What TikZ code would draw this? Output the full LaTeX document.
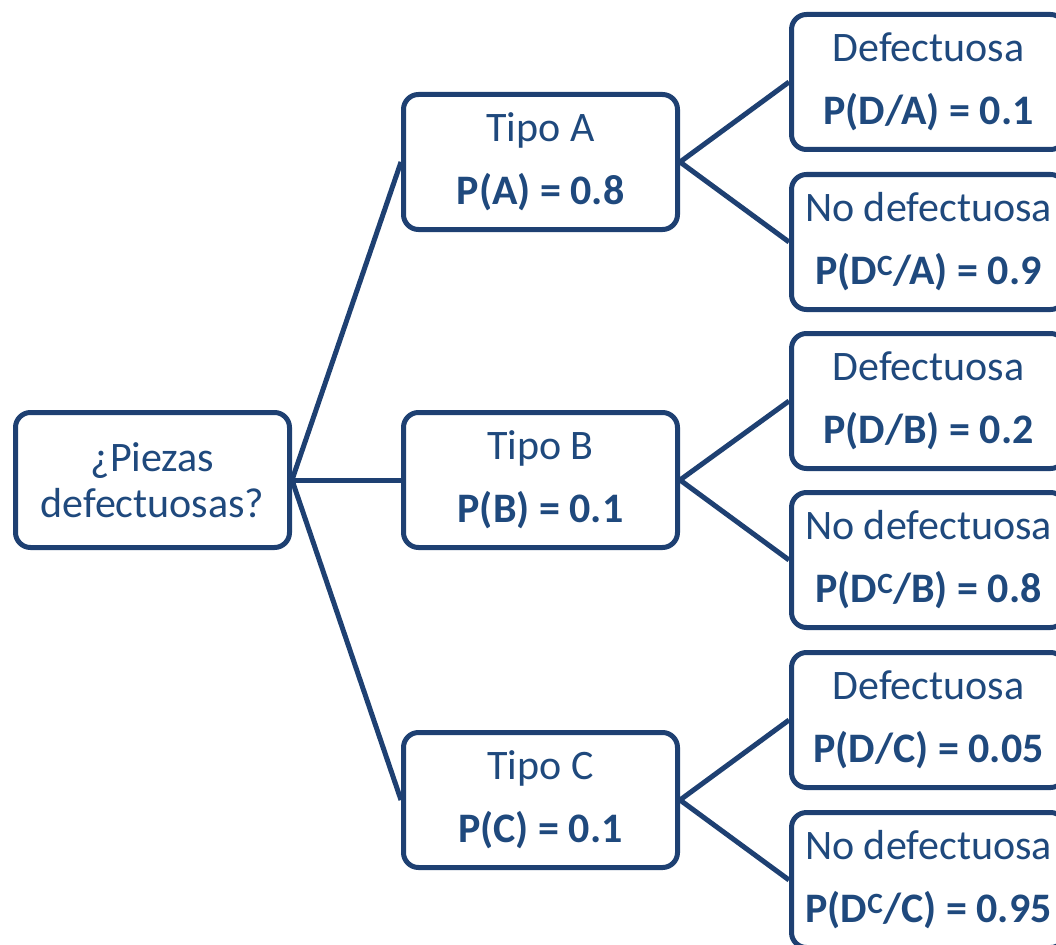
\documentclass[tikz,border=0pt]{standalone}
\usepackage{fontspec}
\setmainfont{Carlito}
\definecolor{ln}{HTML}{1E4072}
\definecolor{tx}{HTML}{1F497D}
\begin{document}
\begin{tikzpicture}[x=1pt,y=-1pt,
  box/.style={draw=ln, line width=5pt, rounded corners=15pt, minimum width=274pt,
    minimum height=135pt, inner sep=0pt, align=center, text=tx, fill=white,
    font=\fontsize{42}{63}\selectfont},
  rootbox/.style={box, font=\fontsize{42}{46}\selectfont},
  link/.style={draw=ln, line width=5pt}]
\useasboundingbox (0,0) rectangle (1056,944);
\clip (0,0) rectangle (1056,944);
\node[rootbox] (root) at (152.5,480) {¿Piezas\\defectuosas?};
\node[box] (ta) at (540.5,162) {Tipo A\\\textbf{P(A) = 0.8}};
\node[box] (tb) at (540.5,480) {Tipo B\\\textbf{P(B) = 0.1}};
\node[box] (tc) at (540.5,800) {Tipo C\\\textbf{P(C) = 0.1}};
\node[box] (da) at (928.5,82) {Defectuosa\\\textbf{P(D/A) = 0.1}};
\node[box] (na) at (928.5,242) {No defectuosa\\\textbf{P(D\textsuperscript{C}/A) = 0.9}};
\node[box] (db) at (928.5,401) {Defectuosa\\\textbf{P(D/B) = 0.2}};
\node[box] (nb) at (928.5,560) {No defectuosa\\\textbf{P(D\textsuperscript{C}/B) = 0.8}};
\node[box] (dc) at (928.5,720) {Defectuosa\\\textbf{P(D/C) = 0.05}};
\node[box] (nc) at (928.5,880) {No defectuosa\\\textbf{P(D\textsuperscript{C}/C) = 0.95}};
\draw[link] (root.east) -- (ta.west);
\draw[link] (root.east) -- (tb.west);
\draw[link] (root.east) -- (tc.west);
\draw[link] (ta.east) -- (da.west);
\draw[link] (ta.east) -- (na.west);
\draw[link] (tb.east) -- (db.west);
\draw[link] (tb.east) -- (nb.west);
\draw[link] (tc.east) -- (dc.west);
\draw[link] (tc.east) -- (nc.west);
\end{tikzpicture}
\end{document}
